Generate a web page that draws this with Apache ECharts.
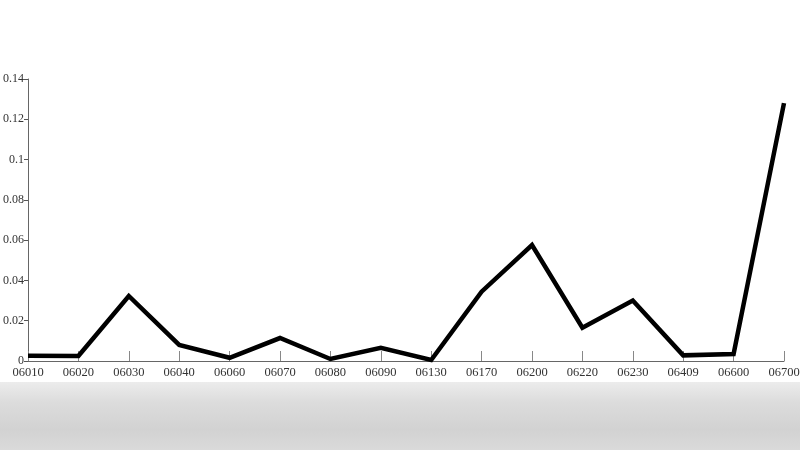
<!DOCTYPE html>
<html><head><meta charset="utf-8">
<script src="https://cdn.jsdelivr.net/npm/echarts@6/dist/echarts.min.js"></script>
<style>html,body{margin:0;padding:0;background:#fff}#c{width:800px;height:450px}</style>
</head><body><div id="c"></div>
<script>
var categories = ['06010','06020','06030','06040','06060','06070','06080','06090','06130','06170','06200','06220','06230','06409','06600','06700'];
var values = [0.0026,0.0025,0.0323,0.008,0.0016,0.0114,0.001,0.0066,0.0005,0.0344,0.0576,0.0165,0.030,0.0028,0.0035,0.128];
var yTicks = [0,0.02,0.04,0.06,0.08,0.1,0.12,0.14];

var chart = echarts.init(document.getElementById('c'));
var font = 'Liberation Serif, Times New Roman, serif';
chart.setOption({
  animation:false,
  backgroundColor:'#fff',
  grid:{left:28,right:16,top:79,bottom:89,containLabel:false,outerBoundsMode:'none'},
  graphic:[{
    type:'rect', z:-10, silent:true,
    shape:{x:0,y:382,width:800,height:68},
    style:{fill:new echarts.graphic.LinearGradient(0,0,0,1,[
      {offset:0,color:'#ececec'},{offset:0.3,color:'#dcdcdc'},{offset:0.7,color:'#d2d2d2'},{offset:1,color:'#dadada'}])}
  }],
  xAxis:{
    type:'category', data:categories, boundaryGap:false,
    axisLine:{lineStyle:{color:'#666',width:1}},
    axisTick:{inside:true,length:10,alignWithLabel:true,lineStyle:{color:'#888'}},
    axisLabel:{color:'#333',fontFamily:font,fontSize:12.5,margin:5,interval:0}
  },
  yAxis:{
    type:'value', min:0, max:0.14, interval:0.02,
    splitLine:{show:false},
    axisLine:{show:true,lineStyle:{color:'#666',width:1}},
    axisTick:{show:true,length:4,lineStyle:{color:'#555'}},
    axisLabel:{color:'#333',fontFamily:font,fontSize:12,margin:4,
      formatter:function(v){ var i = yTicks.indexOf(Math.round(v*100)/100); return i>=0 ? String(yTicks[i]) : ''; }}
  },
  series:[{
    type:'line', data:values, symbol:'none',
    lineStyle:{color:'#000',width:4.5,join:'miter'}
  }]
});
</script></body></html>
